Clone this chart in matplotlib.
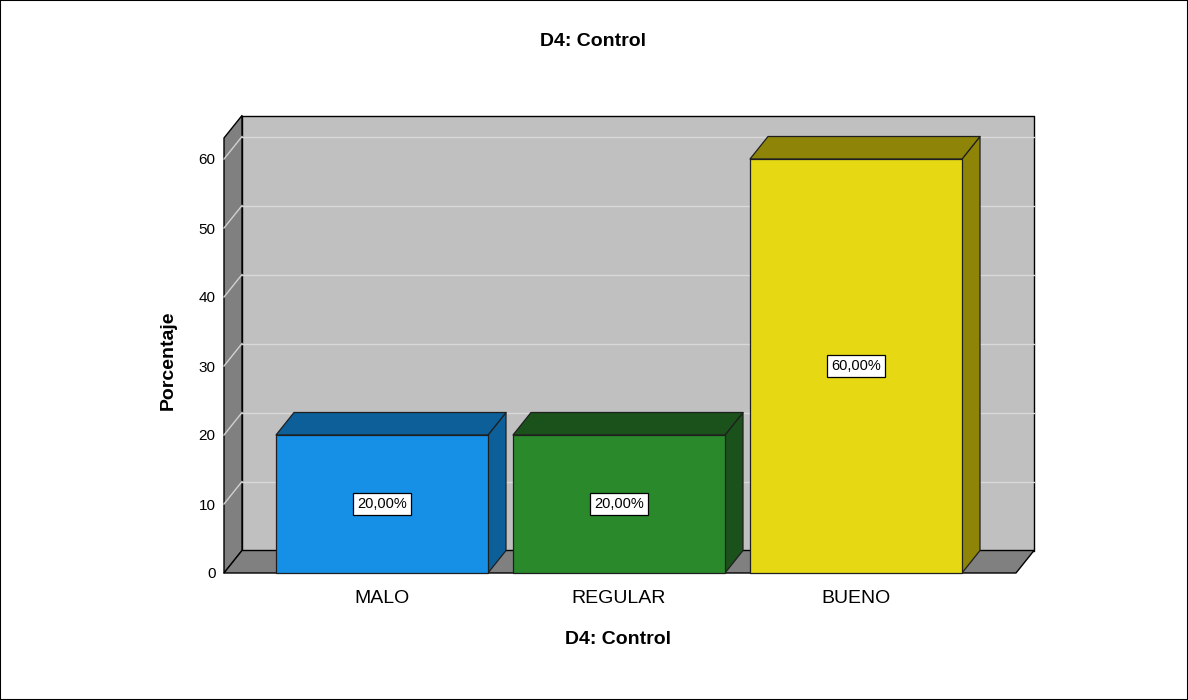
import matplotlib
matplotlib.use("Agg")
import matplotlib.pyplot as plt
from matplotlib.patches import Polygon, Rectangle

# data
categories = ["MALO", "REGULAR", "BUENO"]
percentages = [20.0, 20.0, 60.0]
value_labels = ["20,00%", "20,00%", "60,00%"]
y_ticks = [0, 10, 20, 30, 40, 50, 60]

front_colors = ["#168fe6", "#2a8a2b", "#e6d813"]
dark_colors = ["#0d5f99", "#1b511b", "#8e8508"]

plt.rcParams["font.family"] = ["Liberation Sans", "DejaVu Sans"]

fig = plt.figure(figsize=(11.88, 7.0), dpi=100)
fig.patches.append(Rectangle((0, 0), 1, 1, transform=fig.transFigure,
                             fill=False, edgecolor="black", lw=1.5))

# front plane of the 3d box, in pixels
left_px, right_px, bottom_px, top_px = 224, 1016, 573, 138
ax = fig.add_axes([left_px / 1188, (700 - bottom_px) / 700,
                   (right_px - left_px) / 1188, (bottom_px - top_px) / 700])
px_per_cat = 237.0
px_per_unit = 6.9
xl = -(382 - left_px) / px_per_cat
xr = xl + (right_px - left_px) / px_per_cat
ytop = (bottom_px - top_px) / px_per_unit
ax.set_xlim(xl, xr)
ax.set_ylim(0, ytop)
ax.set_facecolor("none")
for s in ax.spines.values():
    s.set_visible(False)

# depth offset
dx = 18 / px_per_cat
dy = 22.5 / px_per_unit

wall_kw = dict(edgecolor="black", lw=1, clip_on=False, joinstyle="round")
# back wall
ax.add_patch(Polygon([(xl + dx, dy), (xr + dx, dy), (xr + dx, ytop + dy), (xl + dx, ytop + dy)],
                     facecolor="#c0c0c0", zorder=1, **wall_kw))
# left wall
ax.add_patch(Polygon([(xl, 0), (xl + dx, dy), (xl + dx, ytop + dy), (xl, ytop)],
                     facecolor="#808080", zorder=1, **wall_kw))
# floor
ax.add_patch(Polygon([(xl, 0), (xr, 0), (xr + dx, dy), (xl + dx, dy)],
                     facecolor="#808080", zorder=1, **wall_kw))

# gridlines on back and left walls
for t in y_ticks[1:]:
    ax.plot([xl + dx, xr + dx], [t + dy, t + dy], color="#d9d9d9", lw=1, zorder=1.5, clip_on=False)
    ax.plot([xl, xl + dx], [t, t + dy], color="#d0d0d0", lw=1, zorder=1.5, clip_on=False)

# bars
width = 212 / px_per_cat
for i, (v, fc, dc) in enumerate(zip(percentages, front_colors, dark_colors)):
    x0, x1 = i - width / 2, i + width / 2
    bar_kw = dict(edgecolor="#1f1f1f", lw=0.9, clip_on=False, zorder=3, joinstyle="round")
    ax.add_patch(Polygon([(x1, 0), (x1 + dx, dy), (x1 + dx, v + dy), (x1, v)], facecolor=dc, **bar_kw))
    ax.add_patch(Polygon([(x0, v), (x1, v), (x1 + dx, v + dy), (x0 + dx, v + dy)], facecolor=dc, **bar_kw))
    ax.add_patch(Polygon([(x0, 0), (x1, 0), (x1, v), (x0, v)], facecolor=fc, **bar_kw))
    ax.text(i, v / 2, value_labels[i], ha="center", va="center", fontsize=10.5, zorder=5,
            bbox=dict(boxstyle="square,pad=0.25", facecolor="white", edgecolor="black", lw=0.9))

ax.set_yticks(y_ticks)
ax.set_yticklabels([str(t) for t in y_ticks], fontsize=11)
ax.set_xticks(range(len(categories)))
ax.set_xticklabels(categories, fontsize=14)
ax.tick_params(axis="y", length=0, pad=6)
ax.tick_params(axis="x", length=0, pad=12)

fig.text(593 / 1188, 1 - 42 / 700, "D4: Control", ha="center", va="center",
         fontsize=14, fontweight="bold")
fig.text(618 / 1188, 1 - 640 / 700, "D4: Control", ha="center", va="center",
         fontsize=14, fontweight="bold")
fig.text(168 / 1188, 1 - 360 / 700, "Porcentaje", ha="center", va="center",
         fontsize=14, fontweight="bold", rotation=90)

fig.savefig("out.png", dpi=100)
